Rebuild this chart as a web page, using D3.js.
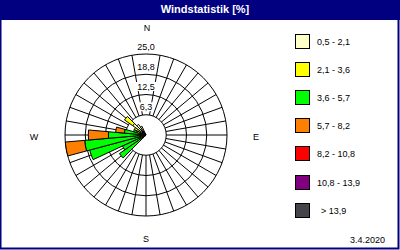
<!DOCTYPE html>
<html><head><meta charset="utf-8">
<script src="https://cdn.jsdelivr.net/npm/d3@7"></script>
<style>body{margin:0;background:#fff}svg{display:block}text{font-family:"Liberation Sans",Arial,sans-serif}</style>
</head><body><svg id="c" width="400" height="250"></svg>
<script>
const title = "Windstatistik [%]";
const dateLabel = "3.4.2020";
const compass = ["N", "E", "S", "W"];
const directions = d3.range(0, 360, 10);
const classLabels = ["0,5 - 2,1", "2,1 - 3,6", "3,6 - 5,7", "5,7 - 8,2", "8,2 - 10,8", "10,8 - 13,9", " > 13,9"];
const classColors = ["#FFFFC8", "#FFFF00", "#00FF00", "#FF8000", "#FF0000", "#800080", "#46434A"];
const ringTicks = [6.25, 12.5, 18.75, 25];
const ringLabels = ["6,3", "12,5", "18,8", "25,0"];
// percentages per direction (index = direction / 10)
const s05_21  = [0,0,0,0,0,0,0,0,0,0,0,0,0,0,0,0,0,0,0,0,0,0,0,0.5,0.5,0.5,0.5,0.5,0.5,1.0,2.0,5.0,4.0,3.0,0,0];
const s21_36  = [0,0,0,0,0,0,0,0,0,0,0,0,0,0,0,0,0,0,0,0,0,0,0,1.0,1.5,1.5,1.5,1.5,1.5,2.0,2.0,3.1,0,0,0,0];
const s36_57  = [0,0,0,0,0,0,0,0,0,0,0,0,0,0,0,0,0,0,0,0,0,0,0,8.5,6.0,16.0,17.0,9.6,4.7,1.0,0,0,0,0,0,0];
const s57_82  = [0,0,0,0,0,0,0,0,0,0,0,0,0,0,0,0,0,0,0,0,0,0,0,0,0,0,6.0,6.2,2.7,0,0,0,0,0,0,0];
const s82_108 = new Array(36).fill(0);
const s108_139 = new Array(36).fill(0);
const s139 = new Array(36).fill(0);
const series = [s05_21, s21_36, s36_57, s57_82, s82_108, s108_139, s139];

const svg = d3.select("#c");
const cx = 146, cy = 135, R = 81;
const r = d3.scaleLinear().domain([0, 25]).range([0, R]);
const ang = d3.scaleLinear().domain([0, 360]).range([0, 2 * Math.PI]);

svg.append("rect").attr("width", 400).attr("height", 250).attr("fill", "#fff");
svg.append("rect").attr("x", 0).attr("y", 0).attr("width", 400).attr("height", 20).attr("fill", "#000080");
svg.append("rect").attr("x", 0.5).attr("y", 0.5).attr("width", 398).attr("height", 248).attr("fill", "none").attr("stroke", "#000080").attr("stroke-width", 2);
svg.append("text").attr("x", 205).attr("y", 12.5).attr("text-anchor", "middle").attr("fill", "#fff")
  .attr("font-weight", "bold").attr("font-size", 11).text(title);

const g = svg.append("g").attr("transform", `translate(${cx},${cy})`);
// grid rings
g.selectAll("circle.ring").data(ringTicks).join("circle").attr("class", "ring")
  .attr("r", d => r(d)).attr("fill", "none").attr("stroke", "#000").attr("stroke-width", 1);
// spokes
g.selectAll("line.spoke").data(directions.filter(d => d !== 0)).join("line").attr("class", "spoke")
  .attr("x1", d => r(6.25) * Math.sin(ang(d))).attr("y1", d => -r(6.25) * Math.cos(ang(d)))
  .attr("x2", d => r(25) * Math.sin(ang(d))).attr("y2", d => -r(25) * Math.cos(ang(d)))
  .attr("stroke", "#000").attr("stroke-width", 1);

// stacked bars
const arc = d3.arc();
directions.forEach((dir, i) => {
  let acc = 0;
  series.forEach((s, k) => {
    const v = s[i];
    if (v > 0) {
      g.append("path").attr("d", arc({innerRadius: r(acc), outerRadius: r(acc + v),
          startAngle: ang(dir - 5), endAngle: ang(dir + 5)}))
        .attr("fill", classColors[k]).attr("stroke", "#000").attr("stroke-width", 1);
      acc += v;
    }
  });
});

// ring labels with white background
ringTicks.forEach((t, i) => {
  const y = cy - r(t) - 8;
  const w = ringLabels[i].length * 4.6 + 2;
  svg.append("rect").attr("x", cx - w / 2).attr("y", y - 4.5).attr("width", w).attr("height", 9).attr("fill", "#fff");
  svg.append("text").attr("x", cx).attr("y", y + 3.5).attr("text-anchor", "middle").attr("font-size", 9).attr("fill", "#000").text(ringLabels[i]);
});

// compass
const cpos = [[147, 31], [256, 140], [146, 242], [34, 140]];
compass.forEach((c, i) => svg.append("text").attr("x", cpos[i][0]).attr("y", cpos[i][1])
  .attr("text-anchor", "middle").attr("font-size", 9).text(c));

// legend
const lg = svg.append("g");
classLabels.forEach((l, i) => {
  const y = 34 + 28.1 * i;
  lg.append("rect").attr("x", 295.5).attr("y", Math.round(y) + 0.5).attr("width", 14).attr("height", 14)
    .attr("fill", classColors[i]).attr("stroke", "#000");
  lg.append("text").attr("x", i === 6 ? 321 : 317).attr("y", Math.round(y) + 11).attr("font-size", 9).text(l.trim());
});
svg.append("text").attr("x", 385).attr("y", 243).attr("text-anchor", "end").attr("font-size", 9).text(dateLabel);
</script></body></html>
